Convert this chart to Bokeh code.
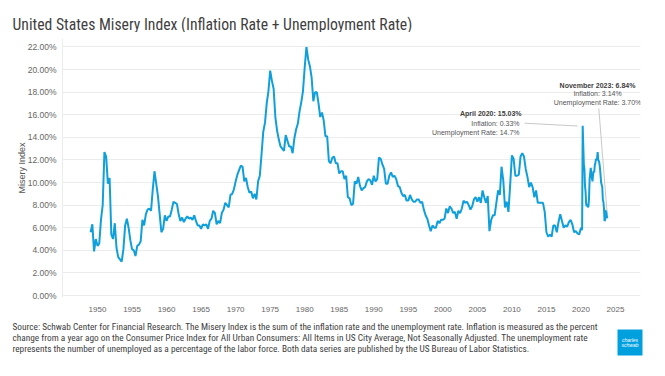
from bokeh.plotting import figure
from bokeh.layouts import column
from bokeh.models import Range1d, FixedTicker, Label, PrintfTickFormatter
from bokeh.embed import file_html
from bokeh.resources import INLINE

# ---------------- data (misery index, %) ----------------
# quarterly readings (Jan, Apr, Jul, Oct), 1949-2019
misery_1940s = [5.6, 6.3, 3.9, 5.0]
misery_1950s = [
    4.4, 4.6, 6.7, 8.0,  12.7, 12.3, 9.9, 10.4,  5.4, 5.0, 6.4, 4.2,
    3.4, 3.2, 3.0, 4.1,  6.2, 6.8, 6.0, 4.9,  4.1, 4.0, 3.5, 4.4,
    4.5, 4.8, 6.7, 6.2,  7.2, 7.6, 7.7, 7.5,  9.4, 11.0, 9.9, 8.8,
    7.2, 5.6, 5.9, 7.1]
misery_1960s = [
    6.6, 7.0, 7.0, 7.6,  8.3, 8.2, 8.1, 7.2,  6.6, 6.9, 6.5, 6.8,
    7.0, 6.8, 6.9, 6.7,  7.1, 6.6, 6.2, 6.2,  5.9, 6.3, 6.2, 6.3,
    5.9, 6.6, 6.8, 7.5,  7.3, 6.3, 6.6, 6.4,  7.3, 7.6, 8.2, 8.0,
    7.8, 8.9, 9.0, 9.4]
misery_1970s = [
    10.1, 10.7, 11.1, 11.5,  11.4, 10.1, 10.4, 9.6,  9.1, 9.2, 8.6, 9.0,
    8.5, 10.1, 10.6, 12.5,  14.5, 15.3, 17.0, 18.1,  19.9, 19.0, 18.3, 15.8,
    14.6, 13.8, 13.2, 13.0,  12.8, 14.2, 13.7, 13.2,  13.2, 12.6, 13.9, 14.7,
    15.2, 16.3, 17.1, 18.1]
misery_1980s = [
    20.2, 22.0, 20.9, 20.3,  19.3, 17.2, 18.0, 18.0,  17.0, 15.8, 16.2, 15.5,
    14.1, 14.1, 11.9, 11.7,  12.2, 12.3, 11.7, 11.7,  10.8, 11.0, 11.0, 10.3,
    10.6, 8.7, 8.6, 8.0,  8.1, 10.1, 9.9, 10.5,  9.7, 9.3, 9.5, 9.6,
    10.1, 10.3, 10.2, 9.8]
misery_1990s = [
    10.6, 10.1, 10.3, 12.2,  12.1, 11.6, 11.2, 9.9,  9.9, 10.6, 10.9, 10.5,
    10.6, 10.3, 9.7, 9.6,  9.1, 8.8, 8.9, 8.4,  8.4, 8.9, 8.5, 8.3,
    8.3, 8.5, 8.5, 8.2,  8.3, 7.6, 7.1, 6.8,  6.2, 5.7, 6.2, 6.0,
    6.0, 6.6, 6.4, 6.7]
misery_2000s = [
    6.7, 6.8, 7.7, 7.3,  7.9, 7.7, 7.3, 7.4,  6.8, 7.5, 7.3, 7.7,
    8.4, 8.2, 8.3, 8.0,  7.6, 7.9, 8.5, 8.7,  8.3, 8.7, 8.2, 9.3,
    8.7, 8.2, 8.8, 5.7,  6.7, 7.1, 7.1, 8.2,  9.3, 8.9, 11.4, 10.2,
    7.8, 8.3, 7.4, 9.8]
misery_2010s = [
    12.4, 12.1, 10.6, 10.6,  10.7, 12.3, 12.6, 12.3,  11.2, 10.5, 9.6, 10.0,
    9.6, 8.7, 9.3, 8.2,  8.2, 8.2, 8.2, 7.4,  5.6, 5.2, 5.4, 5.2,
    6.2, 6.2, 5.6, 6.5,  7.2, 6.6, 6.0, 6.2,  6.1, 6.5, 6.7, 6.3,
    5.6, 5.7, 5.5, 5.4]
# monthly readings, Jan 2020 - Nov 2023
misery_2020s = [
    6.0, 5.8, 5.9, 15.03, 13.3, 11.6, 11.2, 9.7, 9.2, 8.1, 7.9, 8.1,
    7.8, 7.9, 8.6, 10.3, 10.8, 11.3, 10.8, 10.4, 10.1, 10.7, 11.0, 10.9,
    11.5, 11.7, 12.1, 12.0, 12.2, 12.7, 12.0, 11.9, 11.7, 11.3, 10.7, 10.0,
    9.8, 9.6, 8.5, 8.3, 7.7, 6.6, 6.7, 7.5, 7.5, 7.0, 6.84]

quarterly = (misery_1940s + misery_1950s + misery_1960s + misery_1970s +
             misery_1980s + misery_1990s + misery_2000s + misery_2010s)
dates = [1949 + i / 4 for i in range(len(quarterly))] + \
        [2020 + i / 12 for i in range(len(misery_2020s))]
values = quarterly + misery_2020s

y_ticks = [0, 2, 4, 6, 8, 10, 12, 14, 16, 18, 20, 22]
x_ticks = [1950, 1955, 1960, 1965, 1970, 1975, 1980, 1985, 1990, 1995,
           2000, 2005, 2010, 2015, 2020, 2025]

title_text = "United States Misery Index (Inflation Rate + Unemployment Rate)"
footer_lines = [
    "Source:  Schwab Center for Financial Research.  The Misery Index is the sum of the inflation rate and the unemployment rate.  Inflation is measured as the percent",
    "change from a year ago on the Consumer Price Index for All Urban Consumers:  All Items in US City Average, Not Seasonally Adjusted.  The unemployment rate",
    "represents the number of unemployed as a percentage of the labor force.  Both data series are published by the US Bureau of Labor Statistics.",
]
april_lines = ["April 2020: 15.03%", "Inflation:  0.33%", "Unemployment Rate:  14.7%"]
nov_lines = ["November 2023:  6.84%", "Inflation:  3.14%", "Unemployment Rate:  3.70%"]
logo_words = ["charles", "schwab"]

# ---------------- layout (page pixels) ----------------
W = 665
HEAD_H, MAIN_H, FOOT_H = 32, 286, 58
FL, FR, FT, FB = 62, 640, 38, 297          # frame edges of the main chart, page pixels
X0, X1 = 1944.93, 2028.62
Y0, Y1 = -0.177, 22.75


def sx2x(sx):
    return X0 + (sx - FL) * (X1 - X0) / (FR - FL)


def sy2y(sy):
    return Y0 + (FB - sy) * (Y1 - Y0) / (FB - FT)


NARROW = "'Liberation Sans Narrow', 'Roboto Condensed', 'Liberation Sans', sans-serif"
SANS = "'Liberation Sans', Arial, sans-serif"


def no_align(f):
    if "frame_align" in f.properties():
        f.frame_align = False
    return f


def blank(h):
    f = figure(width=W, height=h, output_backend="svg", toolbar_location=None,
               x_range=Range1d(0, W), y_range=Range1d(h, 0),
               x_axis_type=None, y_axis_type=None, min_border=0)
    f.outline_line_color = None
    f.background_fill_color = "white"
    f.border_fill_color = "white"
    return no_align(f)


# ---- header ----
head = blank(HEAD_H)
head.add_layout(Label(x=12, y=23.5, text=title_text, text_font=NARROW,
                      text_font_size="15.7px", text_color="#3f3f3f",
                      text_baseline="alphabetic"))

# ---- main chart ----
p = figure(width=W, height=MAIN_H, output_backend="svg", toolbar_location=None,
           x_range=Range1d(X0, X1), y_range=Range1d(Y0, Y1),
           min_border_left=FL, min_border_right=W - FR,
           min_border_top=FT - HEAD_H, min_border_bottom=HEAD_H + MAIN_H - FB)
no_align(p)
p.outline_line_color = None
p.background_fill_color = "white"
p.border_fill_color = "white"

p.line(dates, values, line_color="#0f9fdb", line_width=2)

p.xaxis.ticker = FixedTicker(ticks=x_ticks)
p.xaxis.formatter = PrintfTickFormatter(format="%d")
p.yaxis.ticker = FixedTicker(ticks=y_ticks)
p.yaxis.formatter = PrintfTickFormatter(format="%.2f%%")
for ax in (p.xaxis, p.yaxis):
    ax.major_tick_line_color = None
    ax.minor_tick_line_color = None
    ax.major_label_text_color = "#666666"
    ax.major_label_text_font = SANS
p.xaxis.axis_line_color = None
p.yaxis.axis_line_color = "#ececec"
p.xaxis.major_label_text_font_size = "8px"
p.yaxis.major_label_text_font_size = "8.5px"
p.xaxis.major_label_standoff = 3
p.yaxis.major_label_standoff = 0
p.yaxis.axis_label = "Misery Index"
p.yaxis.axis_label_text_font = SANS
p.yaxis.axis_label_text_font_size = "9px"
p.yaxis.axis_label_text_font_style = "normal"
p.yaxis.axis_label_text_color = "#555555"
p.yaxis.axis_label_standoff = -2
p.xgrid.grid_line_color = None
p.ygrid.grid_line_color = "#ececec"

for i, (line, sy) in enumerate(zip(april_lines, [113.3, 122.7, 131.7])):
    p.add_layout(Label(x=sx2x(521), y=sy2y(sy), text=line, text_font=SANS,
                       text_font_size="7px", text_align="right", text_baseline="middle",
                       text_font_style="bold" if i == 0 else "normal",
                       text_color="#404040" if i == 0 else "#555555"))
for i, (line, sy) in enumerate(zip(nov_lines, [85, 93.3, 102.3])):
    p.add_layout(Label(x=sx2x(598), y=sy2y(sy), text=line, text_font=SANS,
                       text_font_size="7px", text_align="center", text_baseline="middle",
                       text_font_style="bold" if i == 0 else "normal",
                       text_color="#404040" if i == 0 else "#555555"))

p.segment(x0=[sx2x(524), sx2x(598.3)], y0=[sy2y(122.7), sy2y(108)],
          x1=[sx2x(577), sx2x(606.5)], y1=[sy2y(125.5), sy2y(211)],
          line_color="#c8c8c8", line_width=1)

# ---- footer ----
foot = blank(FOOT_H)
for i, line in enumerate(footer_lines):
    foot.add_layout(Label(x=12, y=8 + 11 * i, text=line, text_font=NARROW,
                          text_font_size="9.3px", text_color="#404040",
                          text_baseline="middle"))
foot.quad(left=[617], right=[642], top=[11], bottom=[37],
          fill_color="#00a0df", line_color=None)
for i, word in enumerate(logo_words):
    foot.add_layout(Label(x=629.5, y=21 + 5 * i, text=word, text_font=SANS,
                          text_font_size="5px", text_color="white",
                          text_align="center", text_baseline="middle",
                          text_font_style="italic"))

layout = column(head, p, foot, spacing=0)
open("out.html", "w").write(file_html(layout, INLINE))
